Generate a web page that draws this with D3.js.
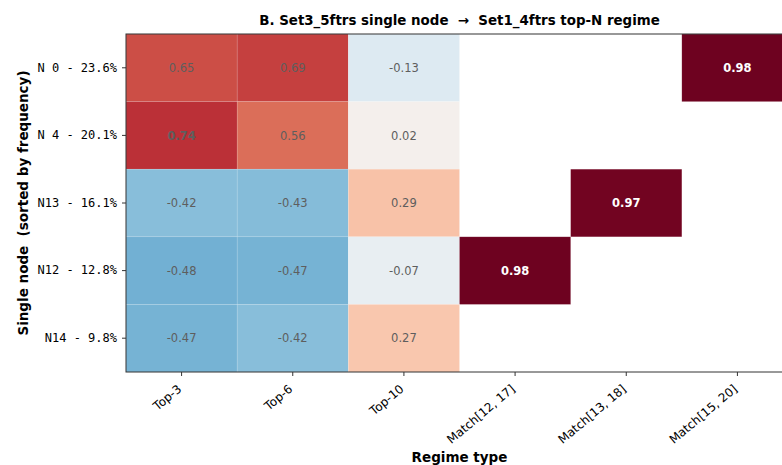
<!DOCTYPE html>
<html>
<head>
<meta charset="utf-8">
<script src="https://cdn.jsdelivr.net/npm/d3@7"></script>
<style>
body { margin: 0; background: #fff; }
text { white-space: pre; }
</style>
</head>
<body>
<svg id="chart" width="782" height="465" font-family="DejaVu Sans"></svg>
<script>
// rows = single nodes, cols = regime types
var rowLabels = ["N 0 - 23.6%", "N 4 - 20.1%", "N13 - 16.1%", "N12 - 12.8%", "N14 - 9.8%"];
var colLabels = ["Top-3", "Top-6", "Top-10", "Match[12, 17]", "Match[13, 18]", "Match[15, 20]"];
var rowN0  = [0.65, 0.69, -0.13, null, null, 0.98];
var rowN4  = [0.74, 0.56, 0.02, null, null, null];
var rowN13 = [-0.42, -0.43, 0.29, null, 0.97, null];
var rowN12 = [-0.48, -0.47, -0.07, 0.98, null, null];
var rowN14 = [-0.47, -0.42, 0.27, null, null, null];
var matrix = [rowN0, rowN4, rowN13, rowN12, rowN14];

var svg = d3.select("#chart");
// note: "top" is window.top, so use other names
var plotL = 126, plotR = 793, plotT = 34, plotB = 372;

var x = d3.scaleBand().domain(colLabels).range([plotL, plotR]);
var y = d3.scaleBand().domain(rowLabels).range([plotT, plotB]);
// RdBu reversed, -1..1
var color = function(v) { return d3.interpolateRdBu((1 - v) / 2); };

var cells = [];
matrix.forEach(function(row, i) {
  row.forEach(function(v, j) {
    if (v !== null) cells.push({r: rowLabels[i], c: colLabels[j], v: v});
  });
});

var g = svg.append("g");
g.selectAll("rect").data(cells).enter().append("rect")
  .attr("x", function(d) { return x(d.c); })
  .attr("y", function(d) { return y(d.r); })
  .attr("width", x.bandwidth())
  .attr("height", y.bandwidth())
  .attr("fill", function(d) { return color(d.v); })
  .attr("stroke", "#fff").attr("stroke-opacity", 0.2).attr("stroke-width", 0.6);

g.selectAll("text.val").data(cells).enter().append("text")
  .attr("class", "val")
  .attr("x", function(d) { return x(d.c) + x.bandwidth() / 2; })
  .attr("y", function(d) { return y(d.r) + y.bandwidth() / 2; })
  .attr("dy", "0.36em")
  .attr("text-anchor", "middle")
  .style("font-family", "DejaVu Sans")
  .style("font-size", "11.5px")
  .style("font-weight", function(d) { return d.v >= 0.7 ? "bold" : "normal"; })
  .attr("fill", function(d) { return d.v >= 0.9 ? "#fff" : "#5e5e5e"; })
  .text(function(d) { return d.v.toFixed(2); });

// frame
svg.append("rect")
  .attr("x", plotL).attr("y", plotT)
  .attr("width", plotR - plotL).attr("height", plotB - plotT)
  .attr("fill", "none").attr("stroke", "#333").attr("stroke-width", 1);

// x axis
var xAxis = svg.append("g")
  .attr("transform", "translate(0," + plotB + ")")
  .call(d3.axisBottom(x).tickSize(4).tickSizeOuter(0));
xAxis.select(".domain").remove();
xAxis.selectAll("line").attr("stroke", "#333");
xAxis.selectAll("text")
  .style("font-family", "DejaVu Sans").style("font-size", "12px").attr("fill", "#000")
  .attr("text-anchor", "end")
  .attr("dy", "0.35em")
  .attr("y", 0).attr("x", 0)
  .attr("transform", "translate(-2,15) rotate(-40)");

// y axis
var yAxis = svg.append("g")
  .attr("transform", "translate(" + plotL + ",0)")
  .call(d3.axisLeft(y).tickSize(4).tickSizeOuter(0));
yAxis.select(".domain").remove();
yAxis.selectAll("line").attr("stroke", "#333");
yAxis.selectAll("text")
  .style("font-family", "DejaVu Sans Mono").style("font-size", "12px").attr("fill", "#000")
  .attr("x", -9);

// titles
svg.append("text")
  .attr("x", (plotL + plotR) / 2).attr("y", 25)
  .attr("text-anchor", "middle")
  .style("font-size", "13.4px").style("font-weight", "bold")
  .text("B. Set3_5ftrs single node  \u2192  Set1_4ftrs top-N regime");

svg.append("text")
  .attr("x", (plotL + plotR) / 2).attr("y", 462)
  .attr("text-anchor", "middle")
  .style("font-size", "13.5px").style("font-weight", "bold")
  .text("Regime type");

svg.append("text")
  .attr("transform", "translate(28," + (plotT + plotB) / 2 + ") rotate(-90)")
  .attr("text-anchor", "middle")
  .style("font-size", "13.5px").style("font-weight", "bold")
  .text("Single node  (sorted by frequency)");
</script>
</body>
</html>
